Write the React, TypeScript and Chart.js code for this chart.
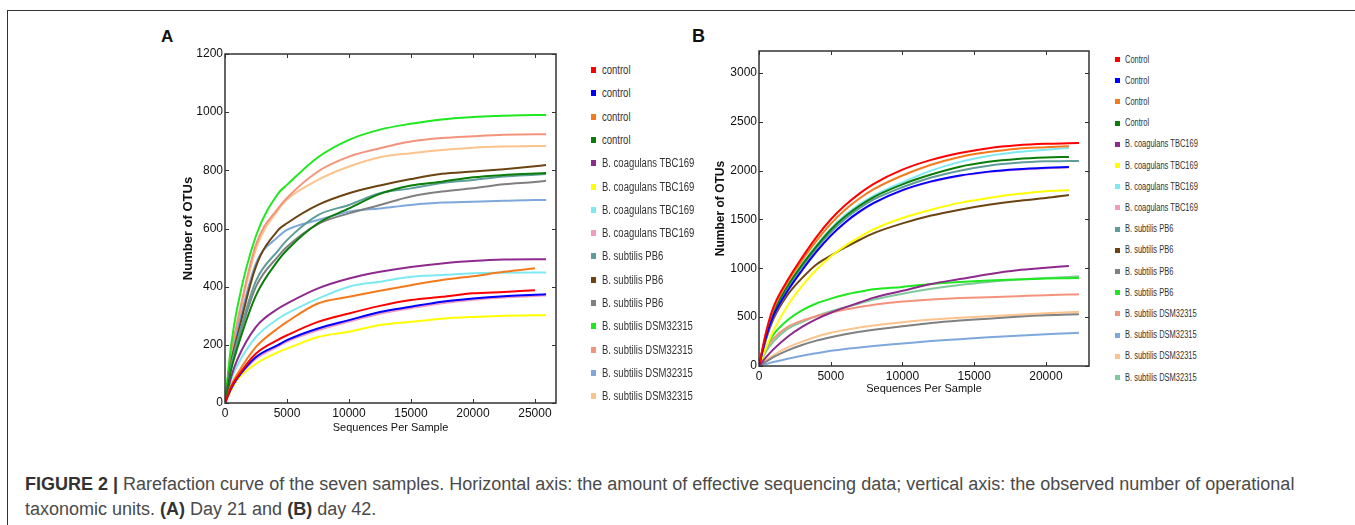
import React, { useEffect, useRef } from "react";
import { Chart, registerables } from "chart.js";

Chart.register(...registerables);

// ---------- Panel A (day 21) ----------
const xA = [0, 500, 1000, 2500, 4300, 5000, 7500, 10000, 12500, 15000, 17500, 20000, 22500, 25000, 25900];
const xTicksA = [0, 5000, 10000, 15000, 20000, 25000];
const yTicksA = [0, 200, 400, 600, 800, 1000, 1200];
const labelsA = [
  "control", "control", "control", "control",
  "B. coagulans TBC169", "B. coagulans TBC169", "B. coagulans TBC169", "B. coagulans TBC169",
  "B. subtilis PB6", "B. subtilis PB6", "B. subtilis PB6",
  "B. subtilis DSM32315", "B. subtilis DSM32315", "B. subtilis DSM32315", "B. subtilis DSM32315",
];
const colorsA = [
  "#ff0000", "#0000ff", "#f57a1c", "#0b7d0b",
  "#8e2a8e", "#ffff00", "#7fe9f2", "#f29bc1",
  "#5e9d99", "#6b4412", "#808080",
  "#1ee81e", "#f4937b", "#7ea8db", "#fcc38d",
];
const ctrl1A = [0, 55, 90, 170, 218, 233, 279, 308, 334, 354, 365, 377, 382, 388, null];
const ctrl2A = [0, 50, 85, 158, 200, 216, 256, 285, 313, 331, 348, 359, 367, 372, 374];
const ctrl3A = [0, 60, 100, 193, 258, 279, 342, 365, 386, 405, 423, 436, 451, 463, null];
const ctrl4A = [0, 115, 190, 370, 491, 526, 618, 669, 719, 748, 761, 776, 784, 789, 791];
const tbc1A = [0, 90, 150, 262, 325, 342, 394, 428, 451, 468, 480, 488, 493, 494, 494];
const tbc2A = [0, 45, 80, 135, 175, 187, 227, 245, 268, 279, 290, 296, 300, 302, 302];
const tbc3A = [0, 80, 130, 227, 290, 308, 359, 400, 417, 434, 440, 446, 448, 449, 449];
const tbc4A = [0, 48, 82, 152, 195, 211, 250, 280, 307, 326, 343, 355, 363, 368, 370];
const pb1A = [0, 130, 215, 420, 525, 560, 646, 681, 721, 738, 756, 767, 779, 785, 787];
const pb2A = [0, 140, 230, 470, 595, 618, 681, 721, 748, 770, 788, 796, 804, 814, 818];
const pb3A = [0, 125, 205, 400, 505, 537, 615, 652, 681, 710, 727, 738, 752, 760, 764];
const dsm1A = [0, 200, 330, 575, 721, 750, 845, 905, 940, 960, 975, 983, 988, 990, 990];
const dsm2A = [0, 170, 280, 545, 670, 705, 796, 847, 876, 899, 911, 917, 922, 924, 924];
const dsm3A = [0, 150, 250, 480, 572, 595, 629, 658, 669, 681, 689, 692, 695, 698, 698];
const dsm4A = [0, 165, 270, 530, 665, 700, 767, 813, 845, 859, 870, 878, 882, 884, 884];
const valuesA = [ctrl1A, ctrl2A, ctrl3A, ctrl4A, tbc1A, tbc2A, tbc3A, tbc4A, pb1A, pb2A, pb3A, dsm1A, dsm2A, dsm3A, dsm4A];

// ---------- Panel B (day 42) ----------
const xB = [0, 500, 1000, 2000, 3000, 4000, 5000, 6000, 7000, 8000, 10000, 12000, 14000, 16000, 18000, 20000, 21600, 22300];
const xTicksB = [0, 5000, 10000, 15000, 20000];
const yTicksB = [0, 500, 1000, 1500, 2000, 2500, 3000];
const labelsB = [
  "Control", "Control", "Control", "Control",
  "B. coagulans TBC169", "B. coagulans TBC169", "B. coagulans TBC169", "B. coagulans TBC169",
  "B. subtilis PB6", "B. subtilis PB6", "B. subtilis PB6", "B. subtilis PB6",
  "B. subtilis DSM32315", "B. subtilis DSM32315", "B. subtilis DSM32315", "B. subtilis DSM32315",
];
const colorsB = [
  "#ff0000", "#0000ff", "#f57a1c", "#0b7d0b",
  "#8e2a8e", "#ffff00", "#7fe9f2", "#f29bc1",
  "#5e9d99", "#6b4412", "#808080", "#1ee81e",
  "#f4937b", "#7ea8db", "#fcc38d", "#80c99c",
];
const ctrl1B = [0, 350, 600, 880, 1110, 1320, 1500, 1645, 1765, 1865, 2010, 2110, 2180, 2230, 2260, 2275, 2280, 2282];
const ctrl2B = [0, 300, 510, 770, 980, 1170, 1335, 1470, 1580, 1670, 1800, 1890, 1950, 1990, 2015, 2030, 2038, null];
const ctrl3B = [0, 340, 580, 860, 1080, 1280, 1455, 1600, 1715, 1810, 1950, 2060, 2140, 2190, 2225, 2240, 2250, null];
const ctrl4B = [0, 320, 545, 820, 1035, 1225, 1395, 1530, 1640, 1730, 1860, 1960, 2040, 2090, 2120, 2135, 2140, null];
const tbc1B = [0, 90, 170, 300, 400, 480, 545, 600, 650, 700, 770, 840, 890, 940, 980, 1005, 1024, null];
const tbc2B = [0, 190, 360, 620, 820, 985, 1120, 1230, 1320, 1400, 1515, 1600, 1670, 1720, 1760, 1790, 1800, null];
const tbc3B = [0, 320, 545, 820, 1040, 1235, 1405, 1545, 1655, 1745, 1880, 2000, 2090, 2150, 2190, 2215, 2232, null];
const tbc4B = [0, 295, 505, 765, 975, 1165, 1330, 1465, 1575, 1665, 1795, 1885, 1945, 1985, 2010, 2025, 2033, null];
const pb1B = [0, 315, 535, 805, 1015, 1205, 1370, 1505, 1615, 1705, 1830, 1930, 2000, 2050, 2080, 2095, 2098, 2100];
const pb2B = [0, 280, 480, 730, 900, 1040, 1130, 1215, 1290, 1360, 1460, 1540, 1600, 1650, 1690, 1720, 1750, null];
const pb3B = [0, 45, 90, 160, 215, 260, 295, 325, 350, 370, 406, 440, 465, 485, 505, 520, 527, 530];
const pb4B = [0, 190, 320, 470, 570, 640, 690, 730, 760, 785, 810, 840, 860, 875, 885, 895, 899, 901];
const dsm1B = [0, 180, 280, 400, 465, 510, 545, 578, 605, 628, 660, 680, 695, 705, 715, 725, 731, 734];
const dsm2B = [0, 20, 40, 75, 105, 130, 155, 175, 190, 205, 230, 255, 275, 295, 310, 325, 335, 341];
const dsm3B = [0, 60, 110, 190, 250, 300, 340, 370, 395, 415, 447, 475, 495, 510, 525, 540, 550, 556];
const dsm4B = [0, 150, 250, 380, 450, 510, 560, 600, 640, 680, 740, 790, 830, 860, 885, 900, 912, 918];
const valuesB = [ctrl1B, ctrl2B, ctrl3B, ctrl4B, tbc1B, tbc2B, tbc3B, tbc4B, pb1B, pb2B, pb3B, pb4B, dsm1B, dsm2B, dsm3B, dsm4B];

const SANS = "'Liberation Sans', Arial, sans-serif";

const boxPlugin = {
  id: "boxTicks",
  afterDatasetsDraw(chart: any) {
    const { ctx, chartArea } = chart;
    const { left, right, top, bottom } = chartArea;
    const xs = chart.scales.x;
    const ys = chart.scales.y;
    ctx.save();
    ctx.strokeStyle = "#333";
    ctx.lineWidth = 1;
    ctx.beginPath();
    xs.ticks.forEach((t: any) => {
      const px = Math.round(xs.getPixelForValue(t.value)) + 0.5;
      ctx.moveTo(px, bottom);
      ctx.lineTo(px, bottom - 4);
      ctx.moveTo(px, top);
      ctx.lineTo(px, top + 4);
    });
    ys.ticks.forEach((t: any) => {
      const py = Math.round(ys.getPixelForValue(t.value)) + 0.5;
      ctx.moveTo(left, py);
      ctx.lineTo(left + 4, py);
      ctx.moveTo(right, py);
      ctx.lineTo(right - 4, py);
    });
    ctx.stroke();
    ctx.lineWidth = 1.5;
    ctx.strokeRect(left, top, right - left, bottom - top);
    ctx.restore();
  },
};

type PanelCfg = {
  xs: number[];
  values: (number | null)[][];
  colors: string[];
  labels: string[];
  xTicks: number[];
  yTicks: number[];
  xMax: number;
  yMax: number;
  width: number;
  height: number;
  padTop: number;
  padRight: number;
  yAxisWidth: number;
  xAxisHeight: number;
  yTitlePad: number;
  xTitlePad: number;
  yTitleSize: number;
};

function Panel({ cfg, left, top }: { cfg: PanelCfg; left: number; top: number }) {
  const ref = useRef<HTMLCanvasElement | null>(null);
  useEffect(() => {
    if (!ref.current) return;
    const datasets = cfg.values.map((vals, i) => ({
      label: cfg.labels[i],
      data: cfg.xs.map((x, j) => ({ x, y: vals[j] })),
      borderColor: cfg.colors[i],
      backgroundColor: cfg.colors[i],
      borderWidth: 2,
      pointRadius: 0,
      tension: 0.4,
      cubicInterpolationMode: "monotone" as const,
      spanGaps: false,
      order: i,
    }));
    const chart = new Chart(ref.current, {
      type: "line",
      data: { datasets },
      plugins: [boxPlugin],
      options: {
        animation: false,
        responsive: false,
        devicePixelRatio: 1,
        layout: { padding: { top: cfg.padTop, right: cfg.padRight, left: 0, bottom: 0 } },
        plugins: { legend: { display: false }, tooltip: { enabled: false } },
        scales: {
          x: {
            type: "linear",
            min: 0,
            max: cfg.xMax,
            afterBuildTicks: (s: any) => {
              s.ticks = cfg.xTicks.map((v) => ({ value: v }));
            },
            afterFit: (s: any) => {
              s.height = cfg.xAxisHeight;
            },
            grid: { display: false, drawTicks: false },
            border: { display: false },
            ticks: {
              color: "#111",
              padding: 3,
              maxRotation: 0,
              autoSkip: false,
              font: { family: SANS, size: 12 },
              callback: (v: any) => String(v),
            },
            title: {
              display: true,
              text: "Sequences Per Sample",
              color: "#111",
              font: { family: SANS, size: 11 },
              padding: { top: 0, bottom: cfg.xTitlePad },
            },
          },
          y: {
            type: "linear",
            min: 0,
            max: cfg.yMax,
            afterBuildTicks: (s: any) => {
              s.ticks = cfg.yTicks.map((v) => ({ value: v }));
            },
            afterFit: (s: any) => {
              s.width = cfg.yAxisWidth;
            },
            grid: { display: false, drawTicks: false },
            border: { display: false },
            ticks: {
              color: "#111",
              padding: 2,
              autoSkip: false,
              font: { family: SANS, size: 12 },
              callback: (v: any) => String(v),
            },
            title: {
              display: true,
              text: "Number of OTUs",
              color: "#111",
              font: { family: SANS, size: cfg.yTitleSize, weight: "bold" },
              padding: { top: cfg.yTitlePad, bottom: 0 },
            },
          },
        },
      },
    });
    return () => chart.destroy();
  }, [cfg]);
  return (
    <canvas
      ref={ref}
      width={cfg.width}
      height={cfg.height}
      style={{ position: "absolute", left, top, width: cfg.width, height: cfg.height }}
    />
  );
}

const cfgA: PanelCfg = {
  xs: xA,
  values: valuesA,
  colors: colorsA,
  labels: labelsA,
  xTicks: xTicksA,
  yTicks: yTicksA,
  xMax: 26700,
  yMax: 1200,
  width: 420,
  height: 400,
  padTop: 14,
  padRight: 14,
  yAxisWidth: 75,
  xAxisHeight: 37,
  yTitlePad: 31,
  xTitlePad: 5,
  yTitleSize: 13,
};

const cfgB: PanelCfg = {
  xs: xB,
  values: valuesB,
  colors: colorsB,
  labels: labelsB,
  xTicks: xTicksB,
  yTicks: yTicksB,
  xMax: 23000,
  yMax: 3225,
  width: 420,
  height: 380,
  padTop: 21,
  padRight: 21,
  yAxisWidth: 69,
  xAxisHeight: 44,
  yTitlePad: 23,
  xTitlePad: 14,
  yTitleSize: 12,
};

function Legend({
  labels,
  colors,
  x,
  y0,
  step,
  sq,
  textX,
  fontSize,
  squeeze,
}: {
  labels: string[];
  colors: string[];
  x: number;
  y0: number;
  step: number;
  sq: [number, number];
  textX: number;
  fontSize: number;
  squeeze: number;
}) {
  return (
    <>
      {labels.map((lab, i) => {
        const cy = y0 + i * step;
        return (
          <React.Fragment key={i}>
            <div
              style={{
                position: "absolute",
                left: x,
                top: cy - sq[1] / 2,
                width: sq[0],
                height: sq[1],
                background: colors[i],
              }}
            />
            <div
              style={{
                position: "absolute",
                left: textX,
                top: cy - 10,
                height: 20,
                lineHeight: "20px",
                fontFamily: SANS,
                fontSize,
                color: "#333",
                whiteSpace: "nowrap",
                transform: `scaleX(${squeeze})`,
                transformOrigin: "left center",
              }}
            >
              {lab}
            </div>
          </React.Fragment>
        );
      })}
    </>
  );
}

export default function App() {
  return (
    <div
      style={{
        position: "absolute",
        left: 0,
        top: 0,
        width: 1355,
        height: 525,
        overflow: "hidden",
        background: "#fff",
      }}
    >
      <div
        style={{
          position: "absolute",
          left: 7,
          top: 10,
          width: 1360,
          height: 530,
          borderTop: "1.5px solid #333",
          borderLeft: "1.5px solid #333",
        }}
      />
      <div
        style={{
          position: "absolute",
          left: 161,
          top: 27,
          fontFamily: SANS,
          fontWeight: "bold",
          fontSize: 17,
          lineHeight: "20px",
          color: "#111",
        }}
      >
        A
      </div>
      <div
        style={{
          position: "absolute",
          left: 692,
          top: 26,
          fontFamily: SANS,
          fontWeight: "bold",
          fontSize: 18,
          lineHeight: "20px",
          color: "#111",
        }}
      >
        B
      </div>
      <Panel cfg={cfgA} left={150} top={40} />
      <Panel cfg={cfgB} left={690} top={30} />
      <Legend
        labels={labelsA}
        colors={colorsA}
        x={591}
        y0={70}
        step={23.3}
        sq={[5, 6]}
        textX={602}
        fontSize={12.5}
        squeeze={0.76}
      />
      <Legend
        labels={labelsB}
        colors={colorsB}
        x={1115}
        y0={59.5}
        step={21.2}
        sq={[5, 5]}
        textX={1125}
        fontSize={10}
        squeeze={0.75}
      />
      <div
        style={{
          position: "absolute",
          left: 25,
          top: 472,
          fontFamily: SANS,
          fontSize: 18,
          lineHeight: "25px",
          color: "#4a4a4a",
          whiteSpace: "nowrap",
        }}
      >
        <b style={{ color: "#333" }}>FIGURE 2 |</b> Rarefaction curve of the seven samples. Horizontal axis: the
        amount of effective sequencing data; vertical axis: the observed number of operational
        <br />
        taxonomic units. <b style={{ color: "#333" }}>(A)</b> Day 21 and <b style={{ color: "#333" }}>(B)</b> day 42.
      </div>
    </div>
  );
}
